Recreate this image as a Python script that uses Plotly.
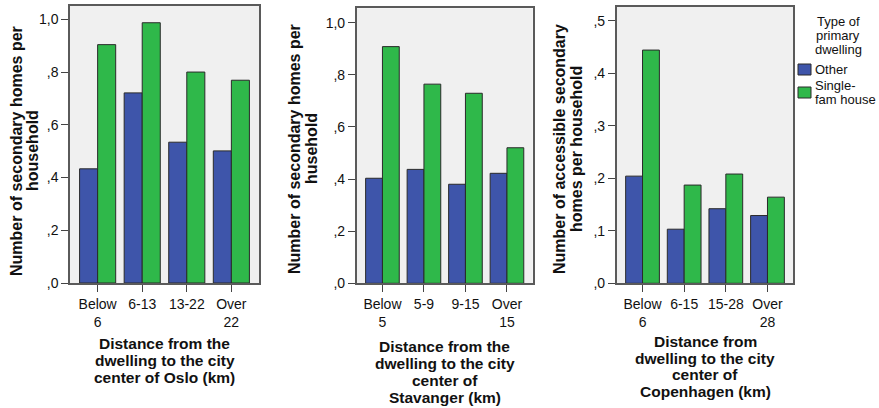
import plotly.graph_objects as go

W, H = 879, 408

# ---------------- data ----------------
oslo_cats = ["Below<br>6", "6-13", "13-22", "Over<br>22"]
oslo_other = [0.433, 0.721, 0.534, 0.501]
oslo_single = [0.904, 0.987, 0.800, 0.769]

stav_cats = ["Below<br>5", "5-9", "9-15", "Over<br>15"]
stav_other = [0.403, 0.437, 0.380, 0.422]
stav_single = [0.908, 0.764, 0.729, 0.520]

cph_cats = ["Below<br>6", "6-15", "15-28", "Over<br>28"]
cph_other = [0.204, 0.103, 0.142, 0.129]
cph_single = [0.444, 0.187, 0.208, 0.164]

series_names = ["Other", "Single-fam house"]
legend_labels = [["Other"], ["Single-", "fam house"]]
legend_title = ["Type of", "primary", "dwelling"]

y_ticks_1 = [0, 0.2, 0.4, 0.6, 0.8, 1.0]
y_ticktext_1 = [",0", ",2", ",4", ",6", ",8", "1,0"]
y_ticks_3 = [0, 0.1, 0.2, 0.3, 0.4, 0.5]
y_ticktext_3 = [",0", ",1", ",2", ",3", ",4", ",5"]

ytitle_1 = ["Number of secondary homes per", "household"]
ytitle_2 = ["Number of secondary homes per", "husehold"]
ytitle_3 = ["Number of accessible secondary", "homes per household"]

xtitle_1 = ["Distance from the", "dwelling to the city", "center of Oslo (km)"]
xtitle_2 = ["Distance from the", "dwelling to the city", "center of", "Stavanger (km)"]
xtitle_3 = ["Distance from", "dwelling to the city", "center of", "Copenhagen (km)"]

# ---------------- style ----------------
BLUE = "#3E55AA"
GREEN = "#2FB84A"
EDGE = "#2a2a2a"
FONT = "Arial, Liberation Sans, sans-serif"
TXT = "#111111"
COLORS = [BLUE, GREEN]


def px(x):
    return x / W


def py(y):
    return 1 - y / H


fig = go.Figure()

panels = [
    (oslo_cats, oslo_other, oslo_single, "x", "y"),
    (stav_cats, stav_other, stav_single, "x2", "y2"),
    (cph_cats, cph_other, cph_single, "x3", "y3"),
]
for i, (cats, oth, sing, xa, ya) in enumerate(panels):
    for j, vals in enumerate([oth, sing]):
        fig.add_trace(go.Bar(x=cats, y=vals, name=series_names[j],
                             marker=dict(color=COLORS[j], line=dict(color=EDGE, width=1)),
                             xaxis=xa, yaxis=ya, showlegend=False))

axis_common = dict(showline=True, mirror=True, linecolor="#5a5a5a", linewidth=1.5,
                   ticks="outside", ticklen=7, tickwidth=1, tickcolor="#444",
                   tickfont=dict(family=FONT, size=14, color=TXT), showgrid=False, zeroline=False)

# plot area pixel boxes: (left, right, top, bottom)
boxes = [(70, 259, 6, 283), (356.7, 532.7, 8.3, 283.3), (616.7, 793.3, 7, 283.3)]
yranges = [[0, 1.0505], [0, 1.055], [0, 0.526]]
yt = [(y_ticks_1, y_ticktext_1), (y_ticks_1, y_ticktext_1), (y_ticks_3, y_ticktext_3)]

layout = dict(width=W, height=H, margin=dict(l=0, r=0, t=0, b=0, autoexpand=False),
              paper_bgcolor="white", plot_bgcolor="#F0F0F0",
              barmode="group", bargap=0.19, bargroupgap=0, showlegend=False,
              font=dict(family=FONT, color=TXT))
for i, (l, r, t, b) in enumerate(boxes):
    sfx = "" if i == 0 else str(i + 1)
    layout["xaxis" + sfx] = dict(axis_common, domain=[px(l), px(r)], range=[-0.62, 3.62],
                                 anchor="y" + sfx, type="category")
    layout["yaxis" + sfx] = dict(axis_common, domain=[py(b), py(t)], range=yranges[i],
                                 anchor="x" + sfx, tickvals=yt[i][0], ticktext=yt[i][1])
fig.update_layout(**layout)

ann = []
# y titles
for lines, xs, yc in [(ytitle_1, [16, 32], 151), (ytitle_2, [294, 311], 149), (ytitle_3, [559, 576], 149)]:
    for s, x in zip(lines, xs):
        ann.append(dict(text=s, x=px(x), y=py(yc), xref="paper", yref="paper", textangle=-90,
                        showarrow=False, xanchor="center", yanchor="middle",
                        font=dict(family=FONT, size=16, color=TXT, weight="bold")))
# x titles
for lines, xc, y0, pitch in [(xtitle_1, 164.5, 343, 17), (xtitle_2, 444.7, 346, 17), (xtitle_3, 705, 341.5, 16.5)]:
    for k, s in enumerate(lines):
        ann.append(dict(text=s, x=px(xc), y=py(y0 + k * pitch), xref="paper", yref="paper",
                        showarrow=False, xanchor="center", yanchor="middle",
                        font=dict(family=FONT, size=15.5, color=TXT, weight="bold")))
# legend title
for k, s in enumerate(legend_title):
    ann.append(dict(text=s, x=px(838), y=py(21 + k * 14), xref="paper", yref="paper",
                    showarrow=False, xanchor="center", yanchor="middle",
                    font=dict(family=FONT, size=13, color=TXT)))

# legend entries (swatch + label), one per series
shapes = []
swatch_y = [(64, 75), (87, 98)]
label_y = [[69.5], [85, 99]]
for j, name in enumerate(series_names):
    y0, y1 = swatch_y[j]
    shapes.append(dict(type="rect", xref="paper", yref="paper", x0=px(798), x1=px(811),
                       y0=py(y1), y1=py(y0), fillcolor=COLORS[j], line=dict(color=EDGE, width=1)))
    for s, yy in zip(legend_labels[j], label_y[j]):
        ann.append(dict(text=s, x=px(813), y=py(yy), xref="paper", yref="paper",
                        showarrow=False, xanchor="left", yanchor="middle",
                        font=dict(family=FONT, size=13, color=TXT)))
fig.update_layout(annotations=ann, shapes=shapes)

fig.write_html("out.html")
